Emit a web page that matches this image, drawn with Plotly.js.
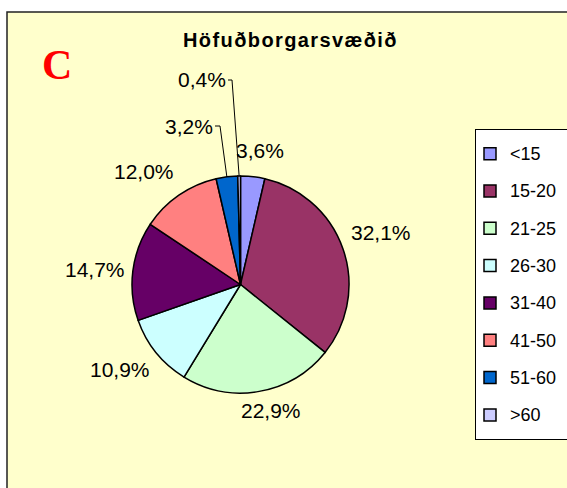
<!DOCTYPE html>
<html>
<head>
<meta charset="utf-8">
<script src="https://cdn.plot.ly/plotly-3.0.1.min.js"></script>
<style>html,body{margin:0;padding:0;background:#fff;}#chart{width:567px;height:488px;}</style>
</head>
<body>
<div id="chart"></div>
<script>
// ---- data ----
var categories = ['<15', '15-20', '21-25', '26-30', '31-40', '41-50', '51-60', '>60'];
var values = [3.6, 32.1, 22.9, 10.9, 14.7, 12.0, 3.2, 0.4];
var colors = ['#9999FF', '#993366', '#CCFFCC', '#CCFFFF', '#660066', '#FF8080', '#0066CC', '#CCCCFF'];
var titleText = 'Höfuðborgarsvæðið';
var panelLetter = 'C';

// ---- geometry (layout) ----
var W = 567, H = 488;
var cx = 240.5, cy = 284.5, R = 108.5;
var labelGap = 8;
var labelHalfW = 29;
function px(x) { return x / W; }
function py(y) { return 1 - y / H; }

function fmt(v) { return v.toFixed(1).replace('.', ',') + '%'; }
function esc(s) { return s.replace(/</g, '&lt;').replace(/>/g, '&gt;'); }

var total = values.reduce(function (a, b) { return a + b; }, 0);
var texts = values.map(fmt);
// small slices get leader-line labels
var calloutIdx = [6, 7];
var legendLabels = categories.map(function (c) {
  return '<span style="font-size:18px;baseline-shift:4px">' + esc(c) + '&nbsp;&nbsp;</span>';
});

function midAngle(i) {
  var cum = 0;
  for (var k = 0; k < i; k++) cum += values[k];
  return (cum + values[i] / 2) / total * 2 * Math.PI;
}
function rayPoint(i, r) {
  var a = midAngle(i);
  return [cx + r * Math.sin(a), cy - r * Math.cos(a)];
}

// label anchor positions for callouts (layout)
var calloutPos = { 6: { lx: 213, ly: 126, tick: 8 }, 7: { lx: 226, ly: 80, tick: 7 } };

var labelFont = { family: 'Liberation Sans, Arial, sans-serif', size: 21, color: '#000' };

var shapes = [{
  type: 'rect', xref: 'paper', yref: 'paper', layer: 'below',
  x0: px(7), x1: px(W + 20), y0: py(H + 20), y1: py(12),
  fillcolor: '#FFFFCC', line: { color: '#222', width: 1.5 }
}];
var annotations = [{
  text: '<b>' + panelLetter + '</b>', xref: 'paper', yref: 'paper',
  x: px(57), y: py(65), xanchor: 'center', yanchor: 'middle', showarrow: false,
  font: { family: 'Liberation Serif, Times New Roman, serif', size: 42, color: '#FF0000' }
}];

values.forEach(function (v, i) {
  if (calloutIdx.indexOf(i) >= 0) {
    var e = rayPoint(i, R), p = calloutPos[i];
    var tx = p.lx + p.tick - 1;
    shapes.push({
      type: 'path', xref: 'paper', yref: 'paper',
      path: 'M' + px(p.lx + 2) + ',' + py(p.ly) + ' L' + px(tx) + ',' + py(p.ly) + ' L' + px(e[0]) + ',' + py(e[1]),
      line: { color: '#000', width: 1 }
    });
    annotations.push({
      text: texts[i], xref: 'paper', yref: 'paper', x: px(p.lx), y: py(p.ly),
      xanchor: 'right', yanchor: 'middle', showarrow: false, borderpad: 0, borderwidth: 0,
      font: labelFont
    });
  } else {
    var a = midAngle(i), s = Math.sin(a), c = Math.cos(a);
    var q = rayPoint(i, R + labelGap);
    var xa = s > 0.5 ? 'left' : (s < -0.5 ? 'right' : 'center');
    annotations.push({
      text: texts[i], xref: 'paper', yref: 'paper', x: px(q[0]), y: py(q[1]),
      xanchor: xa,
      yanchor: c > 0.3 ? 'bottom' : (c < -0.3 ? 'top' : 'middle'),
      xshift: xa === 'center' ? s / 0.5 * labelHalfW : 0,
      yshift: c > 0.3 ? c * 7 : 0,
      showarrow: false, borderpad: 0, borderwidth: 0,
      font: labelFont
    });
  }
});

var trace = {
  type: 'pie',
  labels: legendLabels,
  values: values,
  textinfo: 'none',
  sort: false,
  direction: 'clockwise',
  rotation: 0,
  marker: { colors: colors, line: { color: '#000', width: 1.5 } },
  domain: { x: [px(cx - R), px(cx + R)], y: [py(cy + R), py(cy - R)] },
  hoverinfo: 'none'
};

var layout = {
  width: W, height: H,
  margin: { l: 0, r: 0, t: 0, b: 0, autoexpand: false },
  paper_bgcolor: '#FFFFFF',
  font: { family: 'Liberation Sans, Arial, sans-serif', color: '#000' },
  title: {
    text: '<b><span style="letter-spacing:1.4px">' + titleText + '</span></b>',
    x: px(290.5), xanchor: 'center', y: py(40), yanchor: 'middle',
    font: { family: 'Liberation Sans, Arial, sans-serif', size: 20, color: '#000' }
  },
  showlegend: true,
  legend: {
    x: px(475), y: py(129), xanchor: 'left', yanchor: 'top',
    bgcolor: '#FFFFFF', bordercolor: '#000', borderwidth: 1,
    font: { family: 'Liberation Sans, Arial, sans-serif', size: 26.4, color: '#000' },
    itemwidth: 30,
    indentation: -6
  },
  shapes: shapes,
  annotations: annotations
};

Plotly.newPlot('chart', [trace], layout, { displayModeBar: false, staticPlot: true });
</script>
</body>
</html>
